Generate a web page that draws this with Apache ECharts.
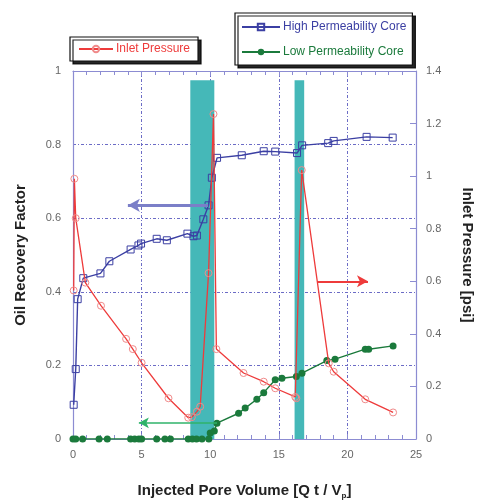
<!DOCTYPE html>
<html>
<head>
<meta charset="utf-8">
<script src="https://cdn.jsdelivr.net/npm/echarts@6/dist/echarts.min.js"></script>
<style>html,body{margin:0;padding:0;background:#fff;}#c{width:477px;height:504px;}</style>
</head>
<body>
<div id="c"></div>
<script>
// ---- data ----
var highX = [0.05, 0.2, 0.34, 0.75, 2.0, 2.65, 4.2, 4.77, 4.96, 6.1, 6.84, 8.34, 8.78, 9.03, 9.5, 9.88, 10.12, 10.5, 12.3, 13.9, 14.74, 16.33, 16.7, 18.6, 19.0, 21.4, 23.3];
var highY = [0.093, 0.19, 0.38, 0.437, 0.45, 0.483, 0.515, 0.526, 0.531, 0.544, 0.54, 0.558, 0.551, 0.553, 0.597, 0.635, 0.71, 0.764, 0.771, 0.782, 0.781, 0.777, 0.798, 0.804, 0.81, 0.821, 0.819];

var lowX = [0, 0.2, 0.7, 1.9, 2.5, 4.2, 4.5, 4.8, 5.0, 6.1, 6.7, 7.1, 8.4, 8.7, 9.0, 9.4, 9.9, 10.0, 10.3, 10.49, 12.07, 12.55, 13.4, 13.9, 14.74, 15.23, 16.28, 16.69, 18.5, 19.1, 21.3, 21.55, 23.33];
var lowY = [0, 0, 0, 0, 0, 0, 0, 0, 0, 0, 0, 0, 0, 0, 0, 0, 0, 0.016, 0.022, 0.043, 0.07, 0.084, 0.108, 0.126, 0.161, 0.165, 0.17, 0.179, 0.213, 0.217, 0.244, 0.244, 0.253];

var pressX = [0.05, 0.1, 0.2, 0.9, 2.04, 3.87, 4.36, 5.0, 6.96, 8.4, 8.66, 9.03, 9.27, 9.88, 10.24, 10.45, 12.43, 13.9, 14.74, 16.2, 16.28, 16.67, 18.64, 19.0, 21.3, 23.33];
var pressY = [0.565, 0.99, 0.84, 0.595, 0.507, 0.381, 0.342, 0.29, 0.155, 0.081, 0.083, 0.104, 0.123, 0.631, 1.236, 0.342, 0.251, 0.218, 0.193, 0.16, 0.155, 1.023, 0.288, 0.256, 0.151, 0.101];

var bandStarts = [8.55, 16.15];
var bandEnds = [10.3, 16.85];
var bandTop = 0.975;

var blueArrow = [[9.85, 0.635], [4.0, 0.635]];
var greenArrow = [[10.5, 0.044], [4.8, 0.044]];
var redArrow = [[17.8, 0.6], [21.5, 0.6]];

var xTicks = [0, 5, 10, 15, 20, 25];
var leftTicks = [0, 0.2, 0.4, 0.6, 0.8, 1];
var rightTicks = [0, 0.2, 0.4, 0.6, 0.8, 1, 1.2, 1.4];

function zip(a, b) { return a.map(function (v, i) { return [v, b[i]]; }); }

var BLUE = '#3b3fa3', RED = '#ee3b3b', GREEN = '#1b7a3c', AXIS = '#8c8cd2', GRID = '#6c6cc6';
var FONT = 'Liberation Sans, Arial, sans-serif';
var LBL = { color: '#666', fontSize: 11, fontFamily: FONT };

var chart = echarts.init(document.getElementById('c'));
chart.setOption({
  animation: false,
  backgroundColor: '#fff',
  grid: { left: 73, right: 61, top: 71, bottom: 65, containLabel: false, outerBoundsMode: 'none' },
  legend: [
    {
      left: 70, top: 37,
      padding: [6, 8, 6, 8],
      itemWidth: 34, itemHeight: 8, itemGap: 4,
      backgroundColor: '#fff', borderColor: '#111', borderWidth: 1.2,
      shadowColor: 'rgba(0,0,0,0.85)', shadowOffsetX: 3, shadowOffsetY: 3, shadowBlur: 0,
      data: [{ name: 'Inlet Pressure', textStyle: { color: RED } }],
      textStyle: { fontSize: 12, fontFamily: FONT, padding: [0, 0, 0, -2] }
    },
    {
      left: 235, top: 13, orient: 'vertical',
      padding: [8, 6, 7, 6],
      itemWidth: 38, itemHeight: 8, itemGap: 13,
      backgroundColor: '#fff', borderColor: '#111', borderWidth: 1.2,
      shadowColor: 'rgba(0,0,0,0.85)', shadowOffsetX: 3, shadowOffsetY: 3, shadowBlur: 0,
      data: [
        { name: 'High Permeability Core', textStyle: { color: BLUE } },
        { name: 'Low Permeability Core', textStyle: { color: GREEN } }
      ],
      textStyle: { fontSize: 12, fontFamily: FONT, padding: [0, 0, 0, -2] }
    }
  ],
  xAxis: [
    {
      type: 'value', min: xTicks[0], max: xTicks[xTicks.length - 1], interval: 5,
      name: 'Injected Pore Volume [Q t / V{sub|p}]',
      nameLocation: 'middle', nameGap: 43,
      nameTextStyle: {
        fontSize: 15, fontWeight: 'bold', color: '#222', fontFamily: FONT,
        rich: { sub: { fontSize: 8, fontWeight: 'bold', color: '#222', verticalAlign: 'bottom', padding: [10, 0, 0, 0] } }
      },
      axisLine: { show: true, onZero: false, lineStyle: { color: AXIS, width: 1.2 } },
      axisTick: { show: true, inside: true, length: 5, lineStyle: { color: AXIS } },
      minorTick: { show: true, splitNumber: 5, length: 4, lineStyle: { color: AXIS } },
      axisLabel: Object.assign({ margin: 10 }, LBL),
      splitLine: { show: true, lineStyle: { color: GRID, type: [3, 2, 1, 2], width: 1 } }
    },
    {
      type: 'value', position: 'top', min: 0, max: 25, interval: 5,
      axisLine: { show: true, onZero: false, lineStyle: { color: AXIS, width: 1.2 } },
      axisTick: { show: true, inside: true, length: 5, lineStyle: { color: AXIS } },
      minorTick: { show: true, splitNumber: 5, length: 4, lineStyle: { color: AXIS } },
      axisLabel: { show: false },
      splitLine: { show: false }
    }
  ],
  yAxis: [
    {
      type: 'value', min: leftTicks[0], max: leftTicks[leftTicks.length - 1], interval: 0.2,
      name: 'Oil Recovery Factor', nameLocation: 'middle', nameGap: 45, nameRotate: 90,
      nameTextStyle: { fontSize: 15, fontWeight: 'bold', color: '#222', fontFamily: FONT },
      axisLine: { show: true, onZero: false, lineStyle: { color: AXIS, width: 1.2 } },
      axisTick: { show: false },
      axisLabel: Object.assign({ margin: 12 }, LBL),
      splitLine: { show: true, lineStyle: { color: GRID, type: [3, 2, 1, 2], width: 1 } }
    },
    {
      type: 'value', min: rightTicks[0], max: rightTicks[rightTicks.length - 1], interval: 0.2, position: 'right',
      name: 'Inlet Pressure [psi]', nameLocation: 'middle', nameGap: 44, nameRotate: -90,
      nameTextStyle: { fontSize: 15, fontWeight: 'bold', color: '#222', fontFamily: FONT },
      axisLine: { show: true, onZero: false, lineStyle: { color: AXIS, width: 1.2 } },
      axisTick: { show: true, inside: true, length: 6, lineStyle: { color: AXIS } },
      axisLabel: Object.assign({ margin: 10 }, LBL),
      splitLine: { show: false }
    }
  ],
  series: [
    {
      name: 'bands', type: 'line', data: [[0, 0]], showSymbol: false, symbol: 'none',
      lineStyle: { width: 0, opacity: 0 }, z: -1, silent: true,
      markArea: {
        silent: true,
        itemStyle: { color: '#45b8b8', opacity: 1 },
        data: bandStarts.map(function (s, i) { return [{ coord: [s, 0] }, { coord: [bandEnds[i], bandTop] }]; })
      }
    },
    {
      name: 'High Permeability Core', type: 'line', data: zip(highX, highY), yAxisIndex: 0,
      symbol: 'rect', symbolSize: 7, showAllSymbol: true, z: 3,
      lineStyle: { color: BLUE, width: 1.4 },
      itemStyle: { color: 'rgba(255,255,255,0)', borderColor: BLUE, borderWidth: 1 },
      markLine: {
        silent: true, symbol: ['none', 'arrow'], symbolSize: [10, 12],
        label: { show: false },
        lineStyle: { color: '#7b7fc8', width: 3, type: 'solid' },
        data: [[{ coord: blueArrow[0], symbol: 'none' }, { coord: blueArrow[1], symbol: 'arrow', itemStyle: { color: '#2e3190' } }]]
      }
    },
    {
      name: 'Low Permeability Core', type: 'line', data: zip(lowX, lowY), yAxisIndex: 0,
      symbol: 'circle', symbolSize: 7, showAllSymbol: true, z: 3,
      lineStyle: { color: GREEN, width: 1.4 },
      itemStyle: { color: GREEN },
      markLine: {
        silent: true, symbol: ['none', 'arrow'], symbolSize: [8, 10],
        label: { show: false },
        lineStyle: { color: '#2fb36a', width: 1.5, type: 'solid' },
        data: [[{ coord: greenArrow[0] }, { coord: greenArrow[1] }]]
      }
    },
    {
      name: 'Inlet Pressure', type: 'line', data: zip(pressX, pressY), yAxisIndex: 1,
      symbol: 'circle', symbolSize: 7, showAllSymbol: true, z: 4,
      lineStyle: { color: RED, width: 1.3 },
      itemStyle: { color: 'rgba(255,255,255,0)', borderColor: '#f08a8a', borderWidth: 1 },
      markLine: {
        silent: true, symbol: ['none', 'arrow'], symbolSize: [9, 11],
        label: { show: false },
        lineStyle: { color: RED, width: 2, type: 'solid' },
        data: [[{ coord: redArrow[0] }, { coord: redArrow[1] }]]
      }
    }
  ]
});
</script>
</body>
</html>
